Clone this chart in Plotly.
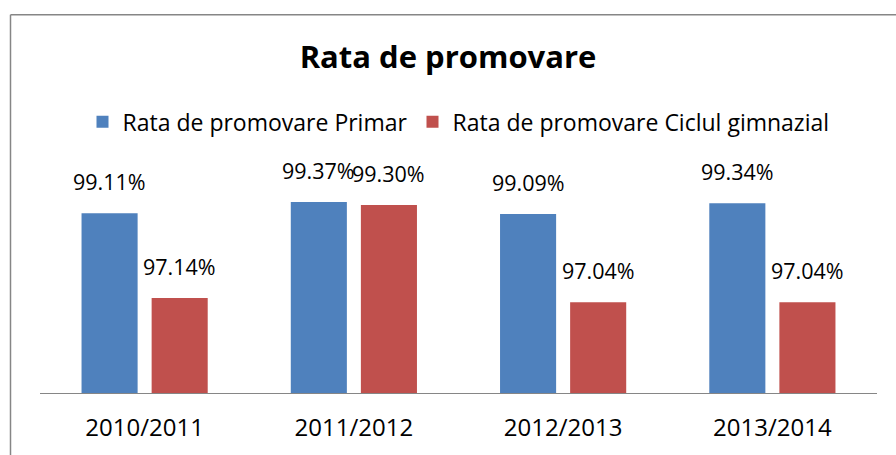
import plotly.graph_objects as go

categories = ["2010/2011", "2011/2012", "2012/2013", "2013/2014"]
primar = [99.11, 99.37, 99.09, 99.34]
gimnazial = [97.14, 99.30, 97.04, 97.04]
series_names = ["Rata de promovare Primar", "Rata de promovare Ciclul gimnazial"]
title_text = "Rata de promovare"

BLUE = "#4F81BD"
RED = "#C0504D"
FONT = "Open Sans"

fig = go.Figure()
fig.add_trace(go.Bar(x=categories, y=primar, name=series_names[0], marker=dict(color=BLUE, line=dict(width=0))))
fig.add_trace(go.Bar(x=categories, y=gimnazial, name=series_names[1], marker=dict(color=RED, line=dict(width=0))))

annotations = []
for vals, xs in ((primar, -35), (gimnazial, 35)):
    for c, v in zip(categories, vals):
        annotations.append(dict(x=c, y=v, text=f"{v:.2f}%", showarrow=False, xshift=xs, yshift=15,
                                yanchor="bottom", font=dict(family=FONT, size=21.5, color="black")))

L, R, T, B = 40, 19, 178, 59
W, H = 896, 455
pw, ph = W - L - R, H - T - B

def px(xp):
    return (xp - L) / pw

def py(yp):
    return (H - B - yp) / ph

fig.update_layout(
    width=W, height=H,
    margin=dict(l=L, r=R, t=T, b=B),
    paper_bgcolor="white", plot_bgcolor="white",
    barmode="group", bargap=0.33, bargroupgap=0.2,
    title=dict(text=f"<b>{title_text}</b>", x=0.5, xanchor="center", y=1 - 57 / H, yanchor="middle",
               font=dict(family=FONT, size=31, color="black")),
    legend=dict(orientation="h", x=0.5, xanchor="center", y=py(121), yanchor="middle",
                font=dict(family=FONT, size=23, color="black"), itemwidth=30, traceorder="normal"),
    xaxis=dict(showline=True, linecolor="#868686", linewidth=1, ticks="", showgrid=False,
               tickfont=dict(family=FONT, size=24, color="black"), ticklabelstandoff=13),
    yaxis=dict(range=[94.93, 99.93], visible=False, showgrid=False, zeroline=False),
    annotations=annotations,
    shapes=[
        dict(type="line", xref="paper", yref="paper", x0=px(10.5), x1=px(10.5), y0=py(12.5), y1=py(470),
             line=dict(color="#868686", width=1.5)),
        dict(type="line", xref="paper", yref="paper", x0=px(10.5), x1=px(910), y0=py(12.5), y1=py(12.5),
             line=dict(color="#868686", width=1.5)),
    ],
)

fig.write_html("out.html", config={"displayModeBar": False},
               post_script="document.body.style.margin='0';")
